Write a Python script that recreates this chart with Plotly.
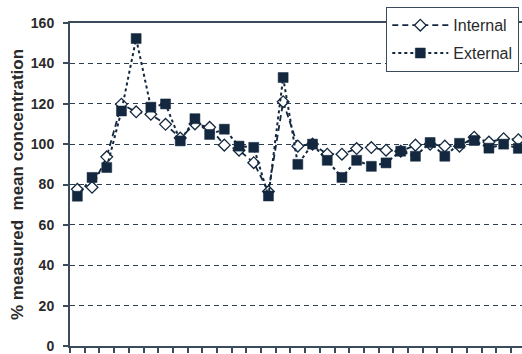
import plotly.graph_objects as go

categories = list(range(31))
internal = [77.6, 78.6, 93.7, 119.8, 116.0, 114.8, 109.8, 103.0, 110.0, 108.3,
            99.5, 97.0, 90.8, 76.5, 121.0, 99.0, 100.0, 95.0, 95.0, 97.8,
            98.3, 97.0, 96.5, 99.5, 100.0, 99.0, 99.0, 103.4, 101.0, 102.7, 102.2]
external = [74.2, 83.5, 88.4, 116.4, 152.3, 118.3, 119.9, 101.6, 112.6, 104.8,
            107.4, 99.0, 98.4, 74.3, 133.0, 90.0, 100.0, 92.0, 83.5, 92.0,
            89.0, 90.7, 96.5, 94.0, 100.8, 94.0, 100.4, 101.8, 98.0, 100.0, 97.9]
y_ticks = [0, 20, 40, 60, 80, 100, 120, 140, 160]
series_names = ["Internal", "External"]

dark = "#13283f"
axis_col = "#3b4b5b"
txt = "#2a2a2a"
font_fam = "Arial, 'Liberation Sans', sans-serif"

fig = go.Figure()
fig.add_trace(go.Scatter(
    x=categories, y=internal, name=series_names[0], mode="lines+markers",
    line=dict(color=dark, width=1.8, dash="6px,4px"),
    marker=dict(symbol="diamond", size=9, color="white",
                line=dict(color=dark, width=1.3)),
    legendgroup="a", cliponaxis=False))
fig.add_trace(go.Scatter(
    x=categories, y=external, name=series_names[1], mode="lines+markers",
    line=dict(color=dark, width=2, dash="dot"),
    marker=dict(symbol="square", size=10, color=dark,
                line=dict(color=dark, width=0.5)),
    legendgroup="b", cliponaxis=False))

fig.update_layout(
    width=522, height=354,
    margin=dict(l=70, r=0, t=23, b=8, autoexpand=False),
    paper_bgcolor="white", plot_bgcolor="white",
    font=dict(family=font_fam, color=txt),
    showlegend=True,
    legend=dict(xref="container", yref="container",
                x=386 / 522, y=1 - 7 / 354, xanchor="left", yanchor="top",
                bgcolor="white", bordercolor=axis_col, borderwidth=1.3,
                font=dict(size=16, color=txt, family=font_fam),
                tracegroupgap=4, itemwidth=56),
)
fig.update_xaxes(
    range=[-0.5, 30.25], tickmode="linear", tick0=-0.5, dtick=1,
    showticklabels=False, ticks="outside", ticklen=5, tickwidth=1.5,
    tickcolor=axis_col, showgrid=False, zeroline=False,
    showline=True, linecolor=axis_col, linewidth=2, mirror=True)
fig.update_yaxes(
    range=[0, 160], tickvals=y_ticks, ticks="outside", ticklen=5,
    tickwidth=1.5, tickcolor=axis_col, ticklabelstandoff=6,
    tickfont=dict(size=14, color=txt, family=font_fam, weight="bold"),
    showgrid=True, gridcolor="#2c3e50", gridwidth=1.4, griddash="5px,4px",
    zeroline=False, showline=True, linecolor=axis_col, linewidth=2,
    title=dict(text="% measured  mean concentration", standoff=3,
               font=dict(size=17, color=txt, family=font_fam, weight="bold")))

fig.write_html("out.html", config={"displayModeBar": False},
               post_script="document.body.style.margin='0';document.body.style.padding='0';")
